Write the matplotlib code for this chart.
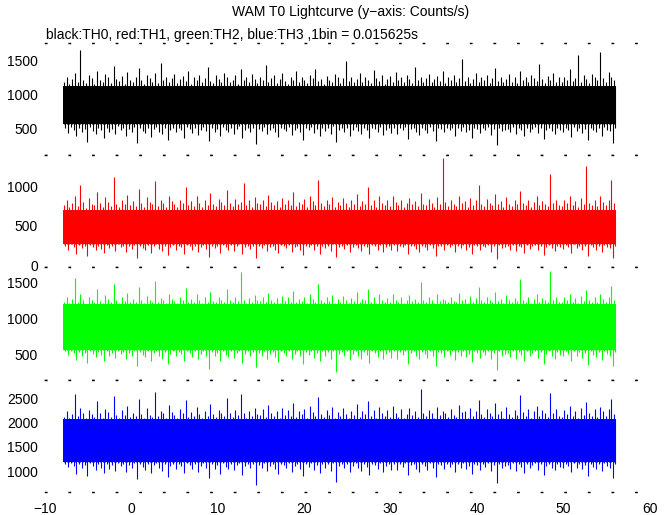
import numpy as np
import matplotlib
matplotlib.use('Agg')
import matplotlib.pyplot as plt

# Time range of the lightcurve (s) and the four channels
t_start = -7.9
t_end = 56.1
names = ['TH0', 'TH1', 'TH2', 'TH3']
colors = ['black', 'red', '#00ff00', 'blue']

# Dense core of each band (counts/s), where nearly every pixel column is filled
core_hi = [1120, 700, 1200, 2080]
core_lo = [560, 270, 560, 1180]

# Per-slice maximum / minimum count rate (counts/s)
th0_hi = [1190, 1260, 1150, 1230, 1310, 1180, 1650, 1220, 1170, 1280, 1240, 1160, 1350, 1210, 1190, 1300, 1250, 1170, 1420, 1230,
          1200, 1270, 1160, 1330, 1220, 1180, 1250, 1390, 1210, 1160, 1290, 1240, 1190, 1310, 1170, 1460, 1220, 1260, 1180, 1240,
          1300, 1170, 1230, 1270, 1200, 1350, 1160, 1250, 1210, 1290, 1180, 1240, 1400, 1200, 1170, 1280, 1230, 1190, 1320, 1250,
          1180, 1220, 1290, 1160, 1370, 1210, 1250, 1190, 1300, 1230, 1170, 1260, 1210, 1440, 1190, 1240, 1280, 1170, 1230, 1310,
          1200, 1160, 1260, 1220, 1340, 1180, 1250, 1210, 1170, 1290, 1240, 1380, 1200, 1230, 1160, 1270, 1220, 1190, 1300, 1250,
          1170, 1240, 1500, 1200, 1260, 1190, 1230, 1310, 1180, 1250, 1210, 1170, 1360, 1240, 1200, 1280, 1160, 1230, 1270, 1190,
          1330, 1210, 1250, 1180, 1290, 1230, 1170, 1410, 1220, 1260, 1190, 1240, 1300, 1180, 1230, 1270, 1200, 1350, 1170, 1250,
          1210, 1290, 1180, 1240, 1520, 1200, 1260, 1170, 1230, 1320, 1190, 1250, 1210, 1280, 1170, 1240, 1390, 1200, 1260, 1180,
          1230, 1300, 1190, 1250, 1170, 1340, 1220, 1260, 1180, 1290, 1240, 1200, 1450, 1230, 1170, 1270, 1210, 1310, 1190, 1250,
          1180, 1260, 1220, 1370, 1200, 1240, 1580, 1190, 1280, 1230, 1170, 1300, 1250, 1210, 1620, 1240, 1190, 1330, 1260, 1220]
th0_lo = [500, 430, 520, 470, 380, 510, 450, 490, 300, 520, 460, 410, 500, 480, 350, 510, 440, 490, 420, 530,
          470, 510, 390, 490, 450, 520, 280, 500, 460, 430, 510, 370, 490, 520, 450, 410, 500, 330, 480, 510,
          440, 500, 470, 360, 520, 490, 430, 510, 400, 480, 520, 460, 310, 500, 450, 490, 380, 520, 470, 440,
          510, 420, 490, 530, 350, 480, 510, 450, 500, 270, 490, 460, 520, 410, 480, 500, 440, 370, 510, 490,
          460, 520, 400, 480, 510, 440, 330, 500, 470, 520, 430, 490, 380, 510, 460, 500, 420, 530, 290, 480,
          500, 450, 510, 390, 480, 520, 460, 410, 500, 470, 350, 510, 490, 440, 520, 400, 480, 500, 430, 510,
          420, 500, 470, 520, 340, 490, 510, 450, 400, 500, 480, 430, 520, 460, 310, 500, 490, 440, 510, 470,
          510, 390, 500, 460, 520, 440, 480, 360, 510, 490, 430, 500, 470, 520, 400, 490, 250, 510, 460, 480,
          490, 440, 520, 410, 500, 470, 380, 510, 450, 490, 520, 430, 500, 340, 480, 510, 460, 420, 500, 470,
          450, 510, 480, 370, 520, 460, 500, 430, 490, 320, 510, 470, 440, 500, 390, 520, 480, 460, 280, 500]

th1_hi = [760, 820, 740, 790, 880, 750, 1010, 800, 730, 850, 780, 760, 930, 790, 740, 860, 800, 750, 1120, 780,
          740, 830, 770, 890, 760, 810, 750, 970, 790, 740, 860, 800, 770, 1060, 750, 820, 790, 740, 880, 810,
          770, 740, 830, 790, 990, 760, 810, 750, 870, 790, 740, 820, 760, 910, 780, 750, 840, 800, 760, 950,
          790, 750, 840, 770, 800, 1040, 760, 820, 740, 860, 790, 770, 830, 750, 890, 800, 760, 810, 740, 850,
          780, 820, 760, 930, 750, 800, 770, 840, 740, 880, 810, 760, 1080, 790, 750, 830, 770, 860, 740, 800,
          760, 850, 790, 740, 820, 770, 900, 750, 810, 780, 990, 760, 830, 740, 870, 790, 760, 820, 750, 880,
          800, 760, 830, 740, 790, 850, 770, 810, 750, 920, 780, 760, 840, 790, 740, 860, 770, 1350, 800, 750,
          830, 770, 750, 880, 790, 810, 740, 850, 760, 820, 1020, 780, 750, 840, 790, 760, 900, 770, 810, 740,
          860, 780, 750, 820, 770, 940, 790, 760, 830, 740, 800, 870, 760, 810, 780, 750, 1150, 790, 830, 760,
          750, 820, 790, 880, 760, 810, 740, 850, 770, 1250, 790, 760, 830, 750, 870, 800, 760, 820, 1080, 790]
th1_lo = [250, 200, 270, 230, 150, 260, 220, 240, 120, 260, 230, 190, 250, 210, 160, 260, 220, 240, 180, 270,
          230, 250, 170, 240, 210, 260, 100, 250, 220, 190, 260, 160, 240, 270, 210, 180, 250, 130, 230, 260,
          200, 250, 230, 150, 260, 240, 190, 250, 170, 230, 260, 210, 110, 250, 220, 240, 160, 260, 230, 200,
          260, 180, 240, 270, 140, 230, 250, 210, 250, 90, 240, 220, 260, 180, 230, 250, 200, 160, 260, 240,
          220, 260, 170, 230, 250, 200, 130, 250, 230, 260, 190, 240, 150, 250, 220, 250, 180, 270, 110, 230,
          250, 210, 260, 170, 230, 260, 220, 180, 250, 230, 140, 260, 240, 200, 260, 170, 230, 250, 190, 260,
          180, 250, 230, 260, 140, 240, 250, 210, 170, 250, 230, 190, 260, 220, 120, 250, 240, 200, 260, 230,
          260, 170, 250, 220, 260, 200, 230, 150, 260, 240, 190, 250, 230, 260, 170, 240, 80, 260, 220, 230,
          240, 200, 260, 180, 250, 230, 160, 260, 210, 240, 260, 190, 250, 130, 230, 260, 220, 180, 250, 230,
          210, 260, 230, 160, 270, 220, 250, 190, 240, 120, 260, 230, 200, 250, 170, 260, 230, 220, 100, 250]

th2_hi = [1230, 1300, 1210, 1270, 1560, 1220, 1340, 1250, 1200, 1290, 1260, 1220, 1400, 1240, 1210, 1320, 1270, 1220, 1480, 1250,
          1210, 1290, 1240, 1350, 1220, 1270, 1230, 1440, 1250, 1210, 1310, 1260, 1220, 1520, 1230, 1280, 1250, 1210, 1340, 1270,
          1240, 1210, 1300, 1260, 1420, 1220, 1270, 1230, 1330, 1250, 1210, 1290, 1230, 1370, 1240, 1220, 1300, 1260, 1230, 1400,
          1250, 1220, 1290, 1240, 1640, 1260, 1210, 1280, 1230, 1320, 1250, 1240, 1300, 1220, 1350, 1260, 1230, 1280, 1210, 1310,
          1240, 1290, 1230, 1380, 1220, 1270, 1240, 1300, 1210, 1340, 1270, 1230, 1470, 1250, 1220, 1290, 1240, 1320, 1210, 1270,
          1230, 1310, 1250, 1210, 1280, 1240, 1360, 1220, 1270, 1250, 1410, 1230, 1290, 1210, 1330, 1250, 1230, 1280, 1220, 1340,
          1260, 1220, 1300, 1210, 1250, 1320, 1240, 1270, 1220, 1500, 1250, 1230, 1290, 1260, 1210, 1330, 1240, 1270, 1250, 1220,
          1300, 1240, 1220, 1350, 1260, 1270, 1210, 1310, 1230, 1280, 1430, 1250, 1220, 1300, 1260, 1230, 1360, 1240, 1270, 1210,
          1320, 1250, 1220, 1280, 1240, 1540, 1260, 1230, 1290, 1210, 1270, 1340, 1230, 1280, 1250, 1220, 1650, 1260, 1300, 1230,
          1220, 1290, 1250, 1340, 1230, 1280, 1210, 1310, 1240, 1390, 1260, 1230, 1300, 1220, 1330, 1270, 1230, 1290, 1450, 1250]
th2_lo = [540, 490, 550, 510, 420, 530, 480, 520, 380, 550, 500, 460, 530, 490, 400, 540, 470, 520, 450, 550,
          500, 530, 430, 520, 480, 550, 330, 530, 490, 460, 540, 410, 520, 550, 480, 440, 530, 360, 500, 540,
          470, 530, 500, 410, 550, 520, 460, 540, 430, 500, 550, 480, 300, 530, 470, 520, 400, 550, 490, 460,
          540, 450, 510, 550, 380, 500, 540, 470, 530, 320, 510, 480, 550, 440, 500, 530, 460, 390, 540, 510,
          480, 550, 430, 500, 540, 470, 360, 530, 490, 550, 450, 520, 410, 540, 480, 530, 440, 550, 250, 500,
          530, 470, 540, 420, 500, 550, 480, 440, 530, 490, 380, 540, 510, 460, 550, 430, 500, 530, 450, 540,
          440, 530, 490, 550, 370, 510, 540, 470, 430, 530, 500, 450, 550, 480, 340, 530, 510, 460, 540, 490,
          540, 420, 530, 480, 550, 460, 500, 390, 540, 510, 450, 530, 490, 550, 430, 510, 280, 540, 480, 500,
          510, 460, 550, 440, 530, 490, 400, 540, 470, 510, 550, 450, 530, 370, 500, 540, 480, 440, 530, 490,
          470, 540, 500, 400, 550, 480, 530, 450, 510, 350, 540, 490, 460, 530, 420, 550, 500, 480, 330, 530]

th3_hi = [2120, 2240, 2090, 2180, 2600, 2130, 2310, 2200, 2100, 2260, 2170, 2110, 2440, 2190, 2090, 2290, 2210, 2120, 2550, 2160,
          2100, 2270, 2150, 2340, 2110, 2200, 2130, 2480, 2180, 2090, 2300, 2160, 2120, 2640, 2140, 2230, 2190, 2100, 2360, 2210,
          2150, 2090, 2280, 2190, 2460, 2120, 2220, 2140, 2320, 2170, 2100, 2250, 2130, 2390, 2180, 2110, 2270, 2200, 2140, 2500,
          2190, 2120, 2260, 2150, 2590, 2200, 2100, 2240, 2130, 2310, 2180, 2150, 2290, 2110, 2370, 2200, 2130, 2250, 2090, 2300,
          2160, 2270, 2130, 2410, 2110, 2230, 2170, 2290, 2100, 2350, 2210, 2140, 2520, 2180, 2110, 2260, 2150, 2320, 2090, 2220,
          2140, 2300, 2180, 2090, 2250, 2160, 2380, 2120, 2230, 2180, 2450, 2130, 2270, 2100, 2330, 2190, 2140, 2260, 2110, 2340,
          2200, 2120, 2280, 2090, 2180, 2310, 2150, 2240, 2110, 2690, 2190, 2140, 2270, 2200, 2100, 2330, 2160, 2240, 2190, 2120,
          2290, 2160, 2110, 2360, 2210, 2240, 2090, 2310, 2140, 2250, 2470, 2180, 2110, 2290, 2200, 2140, 2400, 2170, 2230, 2100,
          2320, 2180, 2120, 2260, 2150, 2560, 2210, 2130, 2280, 2090, 2230, 2350, 2140, 2260, 2190, 2110, 2610, 2200, 2290, 2130,
          2110, 2270, 2180, 2340, 2130, 2250, 2090, 2310, 2160, 2420, 2200, 2130, 2290, 2110, 2330, 2230, 2140, 2280, 2480, 2170]
th3_lo = [1150, 1080, 1170, 1110, 950, 1140, 1060, 1130, 900, 1160, 1100, 1020, 1140, 1070, 960, 1150, 1050, 1130, 1000, 1170,
          1100, 1140, 990, 1130, 1060, 1170, 830, 1140, 1080, 1030, 1150, 970, 1120, 1170, 1060, 1010, 1140, 880, 1100, 1150,
          1050, 1140, 1100, 960, 1170, 1130, 1040, 1150, 990, 1100, 1160, 1070, 860, 1140, 1050, 1130, 950, 1170, 1090, 1040,
          1150, 1020, 1120, 1170, 920, 1100, 1150, 1060, 1140, 720, 1120, 1070, 1160, 1000, 1100, 1140, 1040, 940, 1150, 1120,
          1070, 1160, 990, 1100, 1150, 1050, 900, 1140, 1090, 1160, 1020, 1130, 960, 1150, 1070, 1140, 1010, 1170, 780, 1100,
          1140, 1060, 1150, 980, 1100, 1170, 1070, 1010, 1140, 1090, 930, 1150, 1120, 1040, 1160, 990, 1100, 1140, 1030, 1150,
          1020, 1140, 1090, 1160, 910, 1120, 1150, 1050, 990, 1140, 1100, 1020, 1170, 1070, 870, 1140, 1120, 1040, 1150, 1090,
          1150, 990, 1140, 1070, 1160, 1040, 1100, 940, 1150, 1120, 1030, 1140, 1090, 1160, 1000, 1120, 750, 1150, 1070, 1100,
          1120, 1040, 1170, 1010, 1140, 1090, 960, 1150, 1060, 1120, 1160, 1030, 1140, 920, 1100, 1150, 1070, 1020, 1140, 1090,
          1060, 1150, 1100, 980, 1170, 1070, 1140, 1040, 1120, 890, 1150, 1090, 1050, 1140, 1000, 1160, 1110, 1070, 850, 1140]

highs = [th0_hi, th1_hi, th2_hi, th3_hi]
lows = [th0_lo, th1_lo, th2_lo, th3_lo]

# Axis settings per panel
ylims = [(100, 1760), (-25, 1390), (145, 1705), (570, 2885)]
yticks = [[500, 1000, 1500], [0, 500, 1000], [500, 1000, 1500], [1000, 1500, 2000, 2500]]
xticks = [-10, 0, 10, 20, 30, 40, 50, 60]

plt.rcParams['font.family'] = ['Liberation Sans', 'DejaVu Sans']
fig, axes = plt.subplots(4, 1, sharex=True, figsize=(6.72, 5.15), dpi=100)
plt.subplots_adjust(left=0.067, right=0.967, top=0.9165, bottom=0.0447, hspace=0)

for i, ax in enumerate(axes):
	hi = np.array(highs[i], dtype=float)
	lo = np.array(lows[i], dtype=float)
	# slice centres; highs and lows offset by half a slice
	dt_hi = (t_end - t_start) / len(hi)
	dt_lo = (t_end - t_start) / len(lo)
	t_hi = t_start + dt_hi * (np.arange(len(hi)) + 0.25)
	t_lo = t_start + dt_lo * (np.arange(len(lo)) + 0.75)
	ax.fill_between([t_start, t_end], core_lo[i], core_hi[i], color=colors[i], linewidth=0)
	ax.vlines(t_hi, core_lo[i], hi, color=colors[i], linewidth=0.8)
	ax.vlines(t_lo, lo, core_hi[i], color=colors[i], linewidth=0.8)
	ax.set_ylim(*ylims[i])
	ax.set_yticks(yticks[i])
	ax.set_xlim(-10, 60)
	ax.tick_params(length=0, labelsize=10, pad=5)
	ax.spines['left'].set_visible(False)
	ax.spines['right'].set_visible(False)
	for s in ['top', 'bottom']:
		ax.spines[s].set_linestyle((0, (1, 16)))
		ax.spines[s].set_linewidth(1.0)

axes[-1].set_xticks(xticks)
axes[-1].tick_params(axis='x', pad=7)

fig.text(0.521, 0.977, 'WAM T0 Lightcurve (y\u2212axis: Counts/s)', ha='center', va='center', fontsize=10)
fig.text(0.068, 0.932, 'black:TH0, red:TH1, green:TH2, blue:TH3 ,1bin = 0.015625s', ha='left', va='center', fontsize=10)

plt.savefig('out.png', dpi=100)
